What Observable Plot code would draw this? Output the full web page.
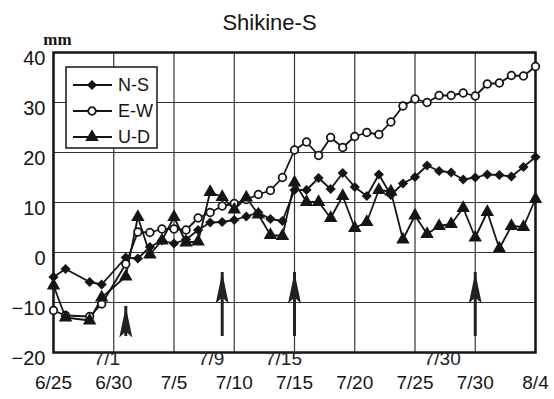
<!DOCTYPE html>
<html><head><meta charset="utf-8">
<script src="https://cdn.jsdelivr.net/npm/d3@7"></script>
<script src="https://cdn.jsdelivr.net/npm/@observablehq/plot@0.6"></script>
<style>
html,body{margin:0;padding:0;background:#fff;}
#chart{width:554px;height:399px;position:relative;}
</style></head><body><div id="chart"></div>
<script>
// ---- data ----
const days = ["6/25","6/26","6/28","6/29","7/1","7/2","7/3","7/4","7/5","7/6","7/7","7/8","7/9","7/10","7/11","7/12","7/13","7/14","7/15","7/16","7/17","7/18","7/19","7/20","7/21","7/22","7/23","7/24","7/25","7/26","7/27","7/28","7/29","7/30","7/31","8/1","8/2","8/3","8/4"];
const ns = [-4.9,-3.3,-5.9,-6.4,-1.0,-1.2,1.1,2.4,1.8,2.6,4.5,6.0,6.1,6.5,7.2,8.0,6.7,6.3,12.5,12.5,14.9,12.7,15.9,13.1,11.3,15.6,11.5,13.8,15.1,17.4,16.3,16.0,14.6,15.0,15.6,15.5,15.2,17.1,19.1];
const ew = [-11.6,-12.6,-12.8,-10.3,-2.3,4.1,4.0,4.7,4.7,4.5,6.9,8.0,9.3,9.8,10.6,11.6,12.4,15.0,20.5,22.1,19.4,23.0,21.0,23.2,24.0,23.6,26.1,29.3,30.7,30.0,31.4,31.4,31.9,31.3,33.7,33.9,35.4,35.3,37.2];
const ud = [-6.6,-13.0,-13.6,-9.0,-4.8,7.1,-0.4,2.4,7.1,2.0,2.2,12.1,11.1,8.6,11.0,7.6,3.5,3.3,14.0,10.1,10.1,6.9,11.3,4.9,6.1,12.5,12.2,2.6,7.4,3.7,5.3,5.7,8.9,3.0,8.1,0.8,5.3,5.1,10.7];
const seriesNames = ["N-S","E-W","U-D"];
const xTicks = ["6/25","6/30","7/5","7/10","7/15","7/20","7/25","7/30","8/4"];
const yTicks = [-20,-10,0,10,20,30,40];
const arrowDates = ["7/1","7/9","7/15","7/30"];
const arrowTop = [-10.8,-4,-4,-4];
const arrowBottom = [-16.8,-16.8,-16.8,-16.8];
const arrowLabels = ["7/1","7/9","7/15","7/30"];
const labelDx = [-19,-11,-11,-33];
const title = "Shikine-S";
const unit = "mm";

// ---- helpers ----
const parse = s => { const [m,d] = s.split("/").map(Number); return new Date(Date.UTC(2000, m-1, d)); };
const fmt = d => `${d.getUTCMonth()+1}/${d.getUTCDate()}`;
const mk = vals => days.map((d,i) => ({date: parse(d), value: vals[i]}));
const nsRows = mk(ns), ewRows = mk(ew), udRows = mk(ud);
const arrows = arrowDates.map((d,i) => ({date: parse(d), top: arrowTop[i], bottom: arrowBottom[i], label: arrowLabels[i]}));

const arrowHead = { draw(ctx) { const w = 6.5, h = 31; ctx.moveTo(0,0); ctx.lineTo(w,h); ctx.lineTo(0,h-6); ctx.lineTo(-w,h); ctx.closePath(); } };
const ink = "#151515";
const font = "Arial, 'Liberation Sans', sans-serif";
const R = {ns: 4.6, ew: 3.8, ud: 5};

const plot = Plot.plot({
  width: 554, height: 399,
  marginLeft: 53, marginRight: 19, marginTop: 52, marginBottom: 47,
  style: {fontFamily: font, background: "#fff", color: ink, overflow: "visible"},
  x: {type: "utc", domain: [parse("6/25"), parse("8/4")], label: null},
  y: {domain: [-20, 40], label: null},
  marks: [
    Plot.gridX(xTicks.map(parse), {stroke: "#333", strokeOpacity: 1, strokeWidth: 1.2}),
    Plot.gridY(yTicks, {stroke: "#333", strokeOpacity: 1, strokeWidth: 1.2}),
    Plot.axisX(xTicks.map(parse), {tickFormat: fmt, tickSize: 0, tickPadding: 23, fontSize: 19, fill: ink, label: null}),
    Plot.axisY(yTicks, {tickSize: 0, tickPadding: 8, fontSize: 20, dy: 6, fill: ink, label: null}),
    Plot.frame({stroke: ink, strokeWidth: 2.5}),
    Plot.ruleX(arrows, {x: "date", y1: "top", y2: "bottom", stroke: "#222", strokeWidth: 3}),
    Plot.dot(arrows, {x: "date", y: "top", symbol: arrowHead, fill: "#222", stroke: "none", r: 5}),
    ...arrows.map((a,i) => Plot.text([a], {x: "date", y: -20, text: "label", dx: labelDx[i], dy: 6, fontSize: 19, fill: "#222"})),
    Plot.line(nsRows, {x: "date", y: "value", stroke: ink, strokeWidth: 1.8}),
    Plot.line(ewRows, {x: "date", y: "value", stroke: ink, strokeWidth: 1.8}),
    Plot.line(udRows, {x: "date", y: "value", stroke: ink, strokeWidth: 1.8}),
    Plot.dot(nsRows, {x: "date", y: "value", symbol: "diamond2", fill: ink, r: R.ns}),
    Plot.dot(ewRows, {x: "date", y: "value", symbol: "circle", fill: "#fff", stroke: ink, strokeWidth: 1.8, r: R.ew}),
    Plot.dot(udRows, {x: "date", y: "value", symbol: "triangle", fill: ink, r: R.ud}),
    Plot.text([title], {frameAnchor: "top", textAnchor: "middle", lineAnchor: "middle", dx: -25, dy: -30, fontSize: 22, fill: ink}),
    Plot.text([unit], {frameAnchor: "top-left", textAnchor: "middle", lineAnchor: "middle", dx: 4, dy: -13, fontSize: 17, fontWeight: "bold", fontFamily: "'Liberation Serif', 'Times New Roman', serif", fill: ink})
  ]
});
document.getElementById("chart").appendChild(plot);

// ---- legend (inside plot, upper-left) ----
const svg = d3.select(plot);
const lg = svg.append("g").attr("transform", "translate(66,67)").attr("text-anchor", "start");
lg.append("rect").attr("width", 91).attr("height", 81).attr("fill", "#fff").attr("stroke", ink).attr("stroke-width", 1.5);
const legendSymbols = [
  {type: d3.symbolDiamond2, size: Math.PI*R.ns*R.ns, fill: ink, stroke: "none"},
  {type: d3.symbolCircle, size: Math.PI*R.ew*R.ew, fill: "#fff", stroke: ink},
  {type: d3.symbolTriangle, size: Math.PI*R.ud*R.ud, fill: ink, stroke: "none"}
];
seriesNames.forEach((name, i) => {
  const y = 18 + i*26;
  lg.append("line").attr("x1", 7).attr("x2", 46).attr("y1", y).attr("y2", y).attr("stroke", ink).attr("stroke-width", 1.8);
  lg.append("path").attr("d", d3.symbol(legendSymbols[i].type, legendSymbols[i].size)()).attr("transform", `translate(26,${y})`)
    .attr("fill", legendSymbols[i].fill).attr("stroke", legendSymbols[i].stroke).attr("stroke-width", 1.8);
  lg.append("text").attr("x", 52).attr("y", y).attr("dy", "0.35em").attr("text-anchor", "start").attr("font-size", 18).attr("font-family", font).attr("fill", ink).text(name);
});
</script>
</body></html>
